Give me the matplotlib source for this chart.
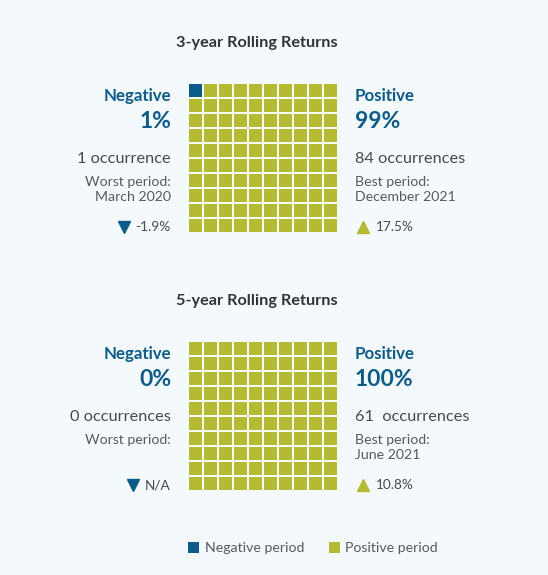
import matplotlib
matplotlib.use("Agg")
import matplotlib.pyplot as plt
from matplotlib.patches import Rectangle

# data
titles = ["3-year Rolling Returns", "5-year Rolling Returns"]
neg_pct = [1, 0]
pos_pct = [99, 100]
neg_counts = ["1 occurrence", "0 occurrences"]
pos_counts = ["84 occurrences", "61  occurrences"]
worst_period = ["Worst period:\nMarch 2020", "Worst period:"]
best_period = ["Best period:\nDecember 2021", "Best period:\nJune 2021"]
worst_ret = ["-1.9%", "N/A"]
best_ret = ["17.5%", "10.8%"]

BLUE = "#0b5c8a"
GREEN = "#b5bb30"
GREY = "#4a4a4a"
LIGHT = "#5a5a5a"
BG = "#f4f9fd"

plt.rcParams['font.family'] = ['Lato', 'DejaVu Sans']

fig = plt.figure(figsize=(5.48, 5.75), dpi=100, facecolor=BG)
ax = fig.add_axes([0, 0, 1, 1])
ax.set_xlim(0, 548)
ax.set_ylim(575, 0)
ax.axis('off')
ax.set_facecolor(BG)

tops = [84, 342]
left = 188.5
pitch = 15.0
cell = 13.2

for k in range(2):
    top = tops[k]
    # waffle grid, row by row, negatives first
    for i in range(100):
        r, c = divmod(i, 10)
        col = BLUE if i < neg_pct[k] else GREEN
        ax.add_patch(Rectangle((left + c * pitch, top + r * pitch), cell, cell,
                               facecolor=col, edgecolor='none'))

    ax.text(257, top - 41, titles[k], ha='center', va='center',
            fontsize=11.7, fontweight='bold', color='#333333')

    # left side
    ax.text(171, top + 12, "Negative", ha='right', va='center',
            fontsize=12.2, fontweight='bold', color=BLUE)
    ax.text(171, top + 37, f"{neg_pct[k]}%", ha='right', va='center',
            fontsize=16.5, fontweight='bold', color=BLUE)
    ax.text(171, top + 75, neg_counts[k], ha='right', va='center',
            fontsize=11.8, color=GREY)
    ax.text(171, top + 92, worst_period[k], ha='right', va='top',
            fontsize=10.2, color=LIGHT, linespacing=1.3)
    ax.text(170, top + 143, worst_ret[k], ha='right', va='center',
            fontsize=9.8, color=GREY)
    ax.plot([124 if k == 0 else 133], [top + 143], marker='v', color=BLUE,
            markersize=8.5, linestyle='none')

    # right side
    ax.text(355, top + 12, "Positive", ha='left', va='center',
            fontsize=12.2, fontweight='bold', color=BLUE)
    ax.text(355, top + 37, f"{pos_pct[k]}%", ha='left', va='center',
            fontsize=16.5, fontweight='bold', color=BLUE)
    ax.text(355, top + 75, pos_counts[k], ha='left', va='center',
            fontsize=11.8, color=GREY)
    ax.text(355, top + 92, best_period[k], ha='left', va='top',
            fontsize=10.2, color=LIGHT, linespacing=1.3)
    ax.plot([363], [top + 143], marker='^', color=GREEN,
            markersize=8.5, linestyle='none')
    ax.text(376, top + 143, best_ret[k], ha='left', va='center',
            fontsize=9.8, color=GREY)

# legend
ax.add_patch(Rectangle((188, 542), 11, 11, facecolor=BLUE, edgecolor='none'))
ax.text(205, 548, "Negative period", ha='left', va='center', fontsize=10.2, color=LIGHT)
ax.add_patch(Rectangle((329, 542), 11, 11, facecolor=GREEN, edgecolor='none'))
ax.text(345, 548, "Positive period", ha='left', va='center', fontsize=10.2, color=LIGHT)

fig.savefig("out.png", dpi=100, facecolor=BG)
